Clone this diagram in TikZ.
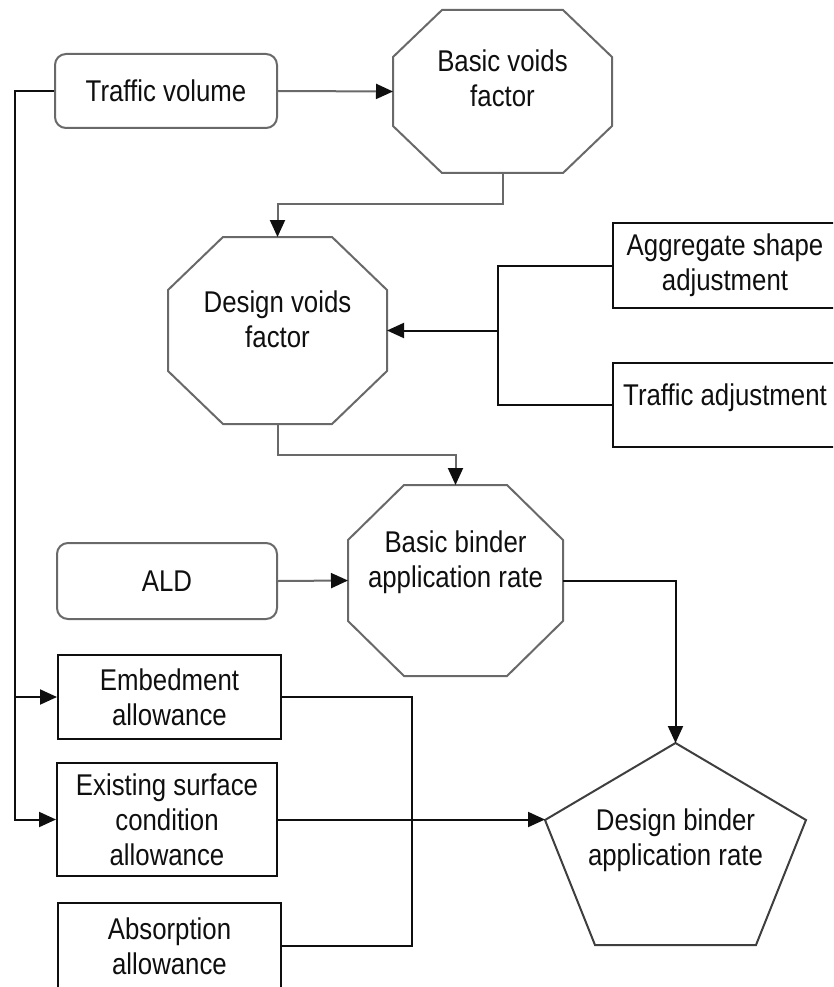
\documentclass[tikz,border=0pt]{standalone}
\usepackage{fontspec}
\setmainfont{Liberation Sans}[FakeStretch=0.86]
\usetikzlibrary{arrows.meta}

\definecolor{linegray}{RGB}{105,105,105}
\definecolor{inkblack}{RGB}{15,15,15}

\newcommand\drawoctagon[3]{%
	\draw[line width=2pt, draw=linegray]
		([xshift=#2pt]#1.north west) -- ([xshift=-#2pt]#1.north east)
		-- ([yshift=-#3pt]#1.north east) -- ([yshift=#3pt]#1.south east)
		-- ([xshift=-#2pt]#1.south east) -- ([xshift=#2pt]#1.south west)
		-- ([yshift=#3pt]#1.south west) -- ([yshift=-#3pt]#1.north west) -- cycle;
}

\begin{document}
\begin{tikzpicture}[
	x=1pt, y=-1pt,
	font=\fontsize{30}{35}\selectfont, text=inkblack,
	source/.style={rectangle, rounded corners=11pt, draw=linegray, line width=2pt, inner sep=0pt, align=center},
	input/.style={rectangle, draw=inkblack, line width=2pt, inner sep=0pt, align=center},
	factor/.style={rectangle, draw=none, inner sep=0pt, outer sep=0pt},
	every label/.style={align=center, inner sep=0pt},
	link/.style={draw=inkblack, line width=2pt},
	graylink/.style={draw=linegray, line width=2pt},
	>={Triangle[length=17pt, width=15pt, color=inkblack]}
]

\useasboundingbox (0,0) rectangle (833,987);
\clip (0,0) rectangle (833,987);

\node [source, minimum width=222pt, minimum height=74pt] (TrafficVolume) at (166,91) {Traffic volume};
\node [factor, minimum width=219pt, minimum height=163pt,
	label={[yshift=13pt]center:Basic voids\\factor}] (BasicVoids) at (502.5,91.5) {};
\node [factor, minimum width=219pt, minimum height=187pt,
	label={[yshift=11pt]center:Design voids\\factor}] (DesignVoids) at (277.5,330.5) {};
\node [input, minimum width=224pt, minimum height=85pt] (AggregateShape) at (725,265.5) {Aggregate shape\\adjustment};
\node [input, minimum width=224pt, minimum height=84pt, text depth=20pt] (TrafficAdj) at (725,405) {Traffic adjustment};
\node [source, minimum width=220pt, minimum height=76pt] (ALD) at (167,581) {ALD};
\node [factor, minimum width=215pt, minimum height=191pt,
	label={[yshift=18pt]center:Basic binder\\application rate}] (BasicBinder) at (455.5,580.5) {};
\node [input, minimum width=223pt, minimum height=84pt] (Embedment) at (169.5,697) {Embedment\\allowance};
\node [input, minimum width=220pt, minimum height=113pt] (Existing) at (167,819.5) {Existing surface\\condition\\allowance};
\node [input, minimum width=223pt, minimum height=86pt] (Absorption) at (169.5,946) {Absorption\\allowance};
\node [factor, minimum width=261pt, minimum height=202pt,
	label={[yshift=4pt]center:Design binder\\application rate}] (DesignBinder) at (675.5,844) {};

\drawoctagon{BasicVoids}{49}{47}
\drawoctagon{DesignVoids}{55}{53}
\drawoctagon{BasicBinder}{56}{55}
\draw [line width=2pt, draw=inkblack!80]
	(DesignBinder.north) -- ([yshift=-77pt]DesignBinder.north east)
	-- ([xshift=-50pt]DesignBinder.south east) -- ([xshift=50pt]DesignBinder.south west)
	-- ([yshift=-77pt]DesignBinder.north west) -- cycle;

\coordinate (Branch) at (15,697);
\coordinate (Join) at (498,330.5);

\draw [graylink, ->] (TrafficVolume.east) -- (BasicVoids.west);
\draw [graylink, ->] (BasicVoids.south) -- ++(0,31) -| (DesignVoids.north);
\draw [link] (AggregateShape.west) -| (Join) |- (TrafficAdj.west);
\draw [link, ->] (Join) -- (DesignVoids.east);
\draw [graylink, ->] (DesignVoids.south) -- ++(0,31) -| (BasicBinder.north);
\draw [graylink, ->] (ALD.east) -- (BasicBinder.west);
\draw [link, ->] (BasicBinder.east) -| (DesignBinder.north);
\draw [link, ->] (TrafficVolume.west) -| (Branch) |- (Existing.west);
\draw [link, ->] (Branch) -- (Embedment.west);
\draw [link] (Embedment.east) -- ++(130,0) |- (Absorption.east);
\draw [link, ->] (Existing.east) -- (Existing.east -| DesignBinder.west);

\end{tikzpicture}
\end{document}
